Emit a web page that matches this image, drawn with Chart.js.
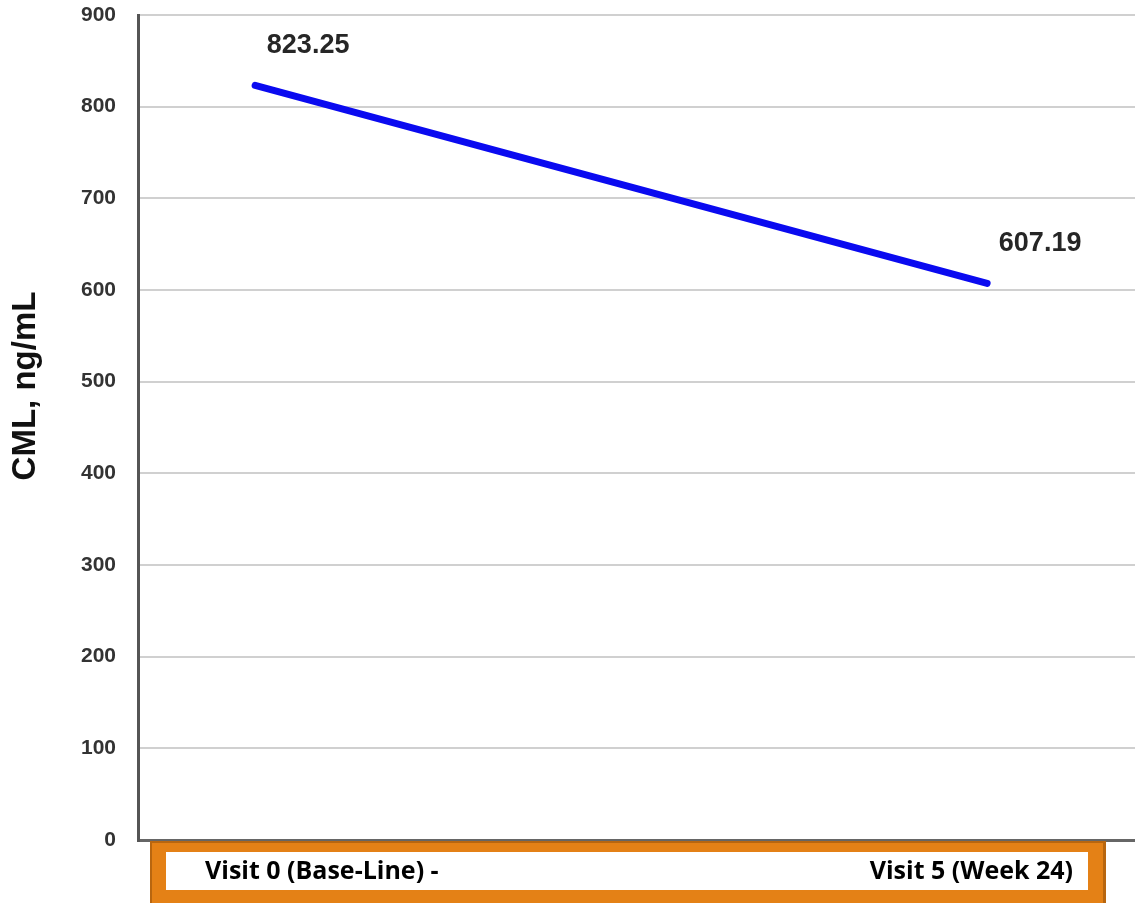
<!DOCTYPE html>
<html>
<head>
<meta charset="utf-8">
<script src="https://cdn.jsdelivr.net/npm/chart.js@4.4.0/dist/chart.umd.min.js"></script>
<style>
  html, body { margin: 0; padding: 0; background: #fff; }
  #wrap { width: 1135px; height: 903px; position: relative; }
</style>
</head>
<body>
<div id="wrap"><canvas id="chart"></canvas></div>
<script>
// chart values
var visits = ["Visit 0 (Base-Line) -", "Visit 5 (Week 24)"];
var visit_pos = [0, 1];
var cml_values = [823.25, 607.19];
var y_ticks = [0, 100, 200, 300, 400, 500, 600, 700, 800, 900];
var y_title = "CML, ng/mL";

var points = visit_pos.map(function (x, i) {
    return {"x": x, "y": cml_values[i]};
});

// value labels drawn above and to the right of each point
var valueLabels = {
    id: "valueLabels",
    afterDatasetsDraw: function (chart) {
        var ctx = chart.ctx;
        var meta = chart.getDatasetMeta(0);

        ctx.save();
        ctx.font = "bold 27px 'Liberation Sans', Arial, sans-serif";
        ctx.fillStyle = "#262626";
        ctx.textAlign = "center";
        ctx.textBaseline = "middle";

        meta.data.forEach(function (pt, i) {
            ctx.fillText(cml_values[i].toFixed(2), pt.x + 53, pt.y - 40);
        });

        ctx.restore();
    }
};

// y title sits a bit above the middle of the axis in the original
var yTitle = {
    id: "yTitle",
    afterDraw: function (chart) {
        var ctx = chart.ctx;

        ctx.save();
        ctx.translate(26, 386);
        ctx.rotate(-Math.PI / 2);
        ctx.font = "bold 33px 'Liberation Sans', Arial, sans-serif";
        ctx.fillStyle = "#111";
        ctx.textAlign = "center";
        ctx.textBaseline = "middle";
        ctx.fillText(y_title, 0, 0);
        ctx.restore();
    }
};

// orange box under the plot with the visit names
var visitBox = {
    id: "visitBox",
    afterDraw: function (chart) {
        var ctx = chart.ctx;
        var bottom = chart.chartArea.bottom;

        ctx.save();
        ctx.fillStyle = "#b8660f";
        ctx.fillRect(150, bottom + 1, 956, 63);
        ctx.fillStyle = "#e48116";
        ctx.fillRect(152, bottom + 3, 951, 61);
        ctx.fillStyle = "#ffffff";
        ctx.fillRect(166, bottom + 12, 922, 38);

        ctx.fillStyle = "#000";
        ctx.font = "bold 25px 'Open Sans', 'Noto Sans', sans-serif";
        ctx.textBaseline = "middle";
        ctx.textAlign = "left";
        ctx.fillText(visits[0], 205, bottom + 32);
        ctx.textAlign = "right";
        ctx.fillText(visits[1], 1073, bottom + 32);
        ctx.restore();
    }
};

new Chart(document.getElementById("chart"), {
    "type": "line",
    "data": {
        "datasets": [{
            "data": points,
            "borderColor": "#0a0af0",
            "borderWidth": 7,
            "borderCapStyle": "round",
            "pointRadius": 0,
            "tension": 0
        }]
    },
    "options": {
        "responsive": true,
        "maintainAspectRatio": false,
        "animation": false,
        "layout": {"padding": {"top": 15, "right": 0, "left": 0, "bottom": 0}},
        "scales": {
            "x": {
                "type": "linear",
                "min": -0.16,
                "max": 1.202,
                "grid": {"display": false, "drawTicks": false},
                "border": {"display": false},
                "ticks": {"display": false},
                "afterFit": function (scale) {
                    scale.height = 63;
                }
            },
            "y": {
                "min": 0,
                "max": 900,
                "afterBuildTicks": function (scale) {
                    scale.ticks = y_ticks.map(function (v) { return {"value": v}; });
                },
                "grid": {
                    "color": function (c) {
                        return c.tick.value === 0 ? "#666" : "#d0d0d0";
                    },
                    "lineWidth": function (c) {
                        return c.tick.value === 0 ? 3 : 2;
                    },
                    "drawTicks": false
                },
                "border": {"display": true, "color": "#555", "width": 3},
                "ticks": {
                    "color": "#333",
                    "padding": 22,
                    "font": {"family": "'Liberation Sans', Arial, sans-serif", "size": 21, "weight": "bold"}
                },
                "afterFit": function (scale) {
                    scale.width = 138;
                    scale.paddingTop = 0;
                    scale.paddingBottom = 0;
                }
            }
        },
        "plugins": {
            "legend": {"display": false},
            "tooltip": {"enabled": false}
        }
    },
    "plugins": [valueLabels, yTitle, visitBox]
});
</script>
</body>
</html>
